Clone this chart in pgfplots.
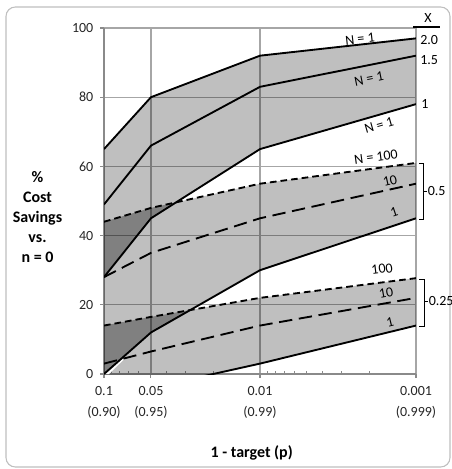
\documentclass[border=0pt]{standalone}
\usepackage{pgfplots}
\pgfplotsset{compat=1.18}
\usepackage{fontspec}
\setmainfont{Carlito}
\definecolor{gridc}{HTML}{A6A6A6}
\definecolor{axisc}{HTML}{8A8A8A}
\definecolor{framec}{HTML}{BFBFBF}
\begin{document}
\begin{tikzpicture}[x=0.75pt,y=0.75pt]
\useasboundingbox (0,0) rectangle (452,469);
\draw[framec, line width=0.8pt, rounded corners=7pt] (6,2) rectangle (450,462);
\begin{axis}[
  at={(78pt,71.25pt)}, anchor=south west,
  scale only axis, width=234pt, height=259.5pt,
  xmode=log, x dir=reverse,
  xmin=0.001, xmax=0.1, ymin=0, ymax=100,
  axis x line*=bottom, axis y line*=left,
  x axis line style={axisc, line width=2pt},
  y axis line style={axisc, line width=2pt},
  xtick={0.1,0.05,0.01,0.001},
  xticklabels={{0.1\\(0.90)},{0.05\\(0.95)},{0.01\\(0.99)},{0.001\\(0.999)}},
  minor xtick={0.002,0.003,0.004,0.005,0.006,0.007,0.008,0.009,0.02,0.03,0.04,0.06,0.07,0.08,0.09},
  ytick={0,20,40,60,80,100},
  xmajorgrids, ymajorgrids,
  major grid style={gridc, line width=1pt},
  tick align=outside,
  major tick length=3pt, minor tick length=2.5pt,
  tick style={axisc, line width=0.8pt},
  minor x tick style={yshift=2.5pt},
  /pgf/number format/assume math mode=true,
  ticklabel style={font=\fontsize{10.5}{15.75}\selectfont, text=black!85},
  xticklabel style={align=center, yshift=-3pt},
  yticklabel style={xshift=-1.5pt},
]
% bands (upper curve forward, lower curve backward)
\addplot[fill=black, fill opacity=0.25, draw=none] coordinates {
  (0.1,65) (0.05,80) (0.01,92) (0.001,97)
  (0.001,78) (0.01,65) (0.05,45) (0.1,28)};
\addplot[fill=black, fill opacity=0.25, draw=none] coordinates {
  (0.1,44) (0.05,48) (0.01,55) (0.001,61)
  (0.001,45) (0.01,30) (0.05,12) (0.1,0)};
\addplot[fill=black, fill opacity=0.25, draw=none] coordinates {
  (0.1,14) (0.05,16.5) (0.01,22) (0.001,27.7)
  (0.001,14) (0.01,3) (0.05,-4) (0.1,-10)};
% overlaps darker
\addplot[fill=black, fill opacity=0.105, draw=none] coordinates {
  (0.1,28) (0.05,45) (0.03449,49.6) (0.05,48) (0.1,44)};
\addplot[fill=black, fill opacity=0.105, draw=none] coordinates {
  (0.1,0) (0.05,12) (0.02802,18.48) (0.05,16.5) (0.1,14)};
\addplot[fill=white, draw=none] coordinates {(0.1,0) (0.0778,4.36) (0.0728,4.66) (0.0929,0)};

% lines: X = 2.0, 1.5, 1 (N = 1)
\addplot[black, line width=1.4pt] coordinates {(0.1,65) (0.05,80) (0.01,92) (0.001,97)};
\addplot[black, line width=1.4pt] coordinates {(0.1,49) (0.05,66) (0.01,83) (0.001,92)};
\addplot[black, line width=1.4pt] coordinates {(0.1,28) (0.05,45) (0.01,65) (0.001,78)};
% X = 0.5 : N = 100, 10, 1
\addplot[black, line width=1.4pt, dash pattern=on 5pt off 3pt] coordinates {(0.1,44) (0.05,48) (0.01,55) (0.001,61)};
\addplot[black, line width=1.4pt, dash pattern=on 10pt off 5pt] coordinates {(0.1,28) (0.05,35) (0.01,45) (0.001,55)};
\addplot[black, line width=1.4pt] coordinates {(0.1,0) (0.05,12) (0.01,30) (0.001,45)};
% X = 0.25 : N = 100, 10, 1
\addplot[black, line width=1.4pt, dash pattern=on 5pt off 3pt] coordinates {(0.1,14) (0.05,16.5) (0.01,22) (0.001,27.7)};
\addplot[black, line width=1.4pt, dash pattern=on 10pt off 5pt] coordinates {(0.1,3) (0.05,6.5) (0.01,14) (0.001,22)};
\addplot[black, line width=1.4pt] coordinates {(0.1,-10) (0.05,-4) (0.01,3) (0.001,14)};
\end{axis}
% axis titles
\node[align=center, font=\fontsize{12}{15}\selectfont\bfseries] at (37.5,252) {\%\\Cost\\Savings\\vs.\\n = 0};
\node[font=\fontsize{12}{15}\selectfont\bfseries] at (251.7,16) {1 - target (p)};
% line labels
\begin{scope}[every node/.style={font=\fontsize{10.5}{12}\selectfont, inner sep=0pt}]
\node[rotate=6.3] at (360,430) {N = 1};
\node[rotate=11.3] at (369,390) {N = 1};
\node[rotate=16] at (379,344) {N = 1};
\node[rotate=7.7] at (376,312) {N = 100};
\node[rotate=12.6] at (390,288) {10};
\node[rotate=18.5] at (394,257) {1};
\node[rotate=7] at (382,200) {100};
\node[rotate=10.4] at (386,176) {10};
\node[rotate=13.8] at (390,147) {1};
% right side
\node at (428,451) {X};
\draw[line width=1.5pt] (413,442) -- (440,442);
\node[anchor=west] at (420,429) {2.0};
\node[anchor=west] at (420,409) {1.5};
\node[anchor=west] at (421,365) {1};
\draw[line width=0.6pt] (419,306) -- (423,306) -- (423,250) -- (419,250);
\draw[line width=0.6pt] (423,278) -- (427,278);
\node[anchor=west] at (427.5,278) {0.5};
\draw[line width=0.6pt] (419,190) -- (424,190) -- (424,143) -- (419,143);
\draw[line width=0.6pt] (424,168) -- (428,168);
\node[anchor=west] at (428.5,168) {0.25};
\end{scope}
\end{tikzpicture}
\end{document}
